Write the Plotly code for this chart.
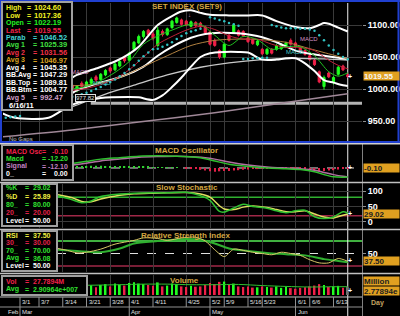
import plotly.graph_objects as go

W, H = 400, 316

# ---------------- data ----------------
bar_idx = list(range(15, 74))
opens = [1006, 999, 1009, 1004, 1009, 1019, 1015, 1022, 1033, 1030, 1036, 1049, 1045, 1062, 1072, 1082,
         1092, 1086, 1068, 1090, 1085, 1096, 1104, 1108, 1106, 1098, 1104, 1103, 1097, 1089, 1076, 1060,
         1050, 1084, 1088, 1091, 1090, 1080, 1077, 1069, 1062, 1055, 1062, 1062, 1063, 1066, 1076, 1072,
         1065, 1060, 1052, 1045, 1027, 1004, 1025, 1010, 1023, 1036, 1022.19]
highs = [1009, 1006, 1012, 1013, 1018, 1022, 1025, 1031, 1035, 1041, 1045, 1051, 1058, 1075, 1085, 1092,
         1094, 1089, 1097, 1093, 1096, 1108, 1113, 1110, 1108, 1107, 1106, 1105, 1099, 1091, 1079, 1062,
         1072, 1086, 1102, 1093, 1092, 1083, 1079, 1077, 1064, 1064, 1064, 1070, 1072, 1074, 1079, 1074,
         1067, 1062, 1054, 1047, 1029, 1021, 1027, 1020, 1036, 1038, 1024.60]
lows = [998, 995, 1001, 1002, 1007, 1011, 1013, 1020, 1025, 1028, 1034, 1041, 1043, 1060, 1070, 1079,
        1083, 1076, 1066, 1082, 1083, 1094, 1102, 1099, 1098, 1096, 1096, 1095, 1086, 1068, 1066, 1047,
        1048, 1074, 1086, 1082, 1081, 1072, 1069, 1067, 1053, 1053, 1054, 1060, 1061, 1064, 1068, 1064,
        1057, 1052, 1044, 1036, 1009, 999, 1017, 1007, 1021, 1028, 1017.36]
closes = [1001, 1004, 1004, 1011, 1015, 1014, 1023, 1029, 1028, 1039, 1043, 1044, 1056, 1073, 1082, 1090,
          1085, 1079, 1092, 1085, 1094, 1106, 1111, 1101, 1100, 1105, 1099, 1097, 1088, 1070, 1068, 1050,
          1070, 1076, 1100, 1084, 1083, 1074, 1071, 1075, 1055, 1062, 1056, 1068, 1070, 1072, 1070, 1066,
          1059, 1054, 1046, 1038, 1011, 1018, 1019, 1018, 1034, 1030, 1019.55]

avg1_x = [15, 18, 21, 24, 27, 30, 33, 36, 39, 42, 45, 48, 51, 54, 57, 60, 63, 66, 69, 71, 73]
avg1_y = [1000, 1004, 1013, 1026, 1043, 1070, 1083, 1092, 1100, 1101, 1084, 1068, 1082, 1077, 1062,
          1066, 1066, 1052, 1027, 1020, 1025.39]
avg2_y = [998, 1001, 1007, 1016, 1030, 1050, 1070, 1082, 1092, 1098, 1093, 1083, 1078, 1078, 1070,
          1065, 1065, 1060, 1045, 1037, 1031.56]
avg3_x = [15, 20, 25, 30, 35, 40, 45, 50, 55, 60, 65, 70, 73]
avg3_y = [1005, 1008, 1018, 1035, 1052, 1068, 1076, 1078, 1077, 1073, 1063, 1053, 1046.97]
avg4_x = [14, 16, 22, 28, 35, 42, 48, 55, 62, 68, 73]
avg4_y = [970, 975, 992, 1006, 1022, 1034, 1041, 1046, 1048, 1047, 1045.35]
avg5_x = [0, 15, 29, 45, 60, 73]
avg5_y = [925, 936, 948.4, 963, 979, 992.47]

bbtop_x = [0, 8, 14, 16, 20, 24, 27, 29, 31, 33, 36, 38, 40, 42, 44, 48, 52, 55, 58, 62, 65, 67, 68, 69, 71, 73]
bbtop_y = [1010, 1006, 1014, 1022, 1032, 1043, 1055, 1066, 1083, 1100, 1114, 1121, 1123, 1119, 1116, 1115,
           1115, 1115, 1106, 1097, 1095, 1100, 1103, 1102, 1096, 1089.81]
bbavg_x = [0, 8, 14, 16, 20, 24, 27, 30, 33, 36, 40, 43, 46, 50, 55, 58, 62, 65, 68, 71, 73]
bbavg_y = [985, 982, 990, 998, 1008, 1016, 1024, 1035, 1052, 1066, 1080, 1086, 1088, 1087, 1081, 1073,
           1060, 1055, 1052, 1049, 1047.29]
bbbtm_x = [0, 3, 10, 14, 16, 21, 27, 29, 32, 34, 36, 38, 40, 42, 44, 47, 50, 52, 55, 58, 60, 62, 64, 66, 68, 70, 72, 73]
bbbtm_y = [963, 955, 955, 972, 978, 986, 987.5, 987, 983, 990, 1003, 1018, 1035, 1050, 1056, 1058, 1058,
           1057, 1046, 1046, 1048, 1048, 1040, 1028, 1014, 1010, 1006, 1004.77]

sar_x = [1, 2, 3, 4, 15, 16, 17, 18, 19, 20, 21, 22, 23, 24, 25, 26, 27, 28, 29, 30, 31, 32, 33, 34, 35,
         36, 37, 38, 39, 40, 41, 42, 44, 45, 46, 47, 48, 49, 50, 51, 52, 53, 54, 55, 56,
         57, 58, 59, 60, 61, 62, 63, 64, 65, 66, 67, 68, 69, 70, 71, 72, 73]
sar_y = [955, 956, 957, 958, 988, 990, 992, 994, 997, 1000, 1003, 1007, 1011, 1015, 1020, 1025, 1031,
         1037, 1044, 1051, 1057, 1062, 1063, 1066, 1069, 1073, 1078, 1083, 1087, 1090, 1092, 1094,
         1112, 1110, 1108, 1106, 1103, 1101, 1099, 1047, 1047, 1048, 1048, 1049, 1049,
         1100, 1098, 1096, 1095, 1095, 1095, 1094, 1094, 1093, 1091, 1084, 1076, 1068, 1061, 1055, 1050, 1046.52]

level_line = 977.82
last_price = 1019.55

macd_x = [15, 18, 21, 25, 29, 33, 37, 41, 43, 45, 48, 52, 56, 60, 63, 66, 68, 70, 72, 73]
macd_y = [6, 9, 12, 14, 16, 16.5, 16, 14.5, 12.5, 9.5, 5, 2, 0, -1, -2, -5, -9, -12, -12.5, -12.2]
signal_y = [4, 6.5, 9.5, 12, 14.5, 15.5, 16, 15, 14, 12, 8, 4, 1.5, 0, -1, -3, -6, -9, -11.3, -12.1]
macd_osc = [1.5, 2, 2.5, 2.5, 3, 3, 3, 2.5, 2.5, 2, 2, 2, 2, 2.5, 2.5, 2, 1.5, 1, 1, 1, 0.5, 0.5, 0.5, 0,
            -0.5, -1, -1.5, -2.5, -3.5, -4.5, -5, -4.5, -4, -4, -3.5, -3, -2.5, -2, -1.5, -1.5, -1, -1,
            -1, -1, -0.5, -0.5, -1, -1, -1.5, -2, -3, -3.5, -4, -4, -3.5, -3, -2, -1, -0.1]

stoch_x = [12, 15, 17, 19, 21, 25, 28, 32, 35, 39, 42, 44, 46, 47, 49, 51, 53, 56, 58, 60, 62, 64, 66, 68, 70, 72, 73]
stoch_k = [84, 72, 62, 68, 82, 90, 93, 94, 94, 96, 85, 70, 34, 32, 45, 57, 50, 44, 36, 30, 36, 38, 17, 11, 16, 33, 29.02]
stoch_d = [88, 78, 66, 65, 74, 86, 91, 93, 94, 95, 90, 80, 52, 42, 40, 48, 52, 47, 40, 33, 33, 36, 26, 16, 13, 22, 25.89]

rsi_x = [12, 14, 16, 18, 21, 24, 28, 30, 33, 35, 38, 41, 43, 45, 47, 49, 51, 53, 55, 57, 59, 61, 63, 65, 67, 69, 71, 73]
rsi_y = [58, 55, 51, 52, 57, 65, 71, 75, 74, 71, 75, 76, 70, 56, 45, 57, 55, 52, 50, 48, 52, 50, 47, 40, 35, 35, 42, 37.5]
rsiavg_x = [12, 16, 21, 25, 28, 33, 38, 42, 45, 48, 52, 56, 60, 64, 68, 71, 73]
rsiavg_y = [56, 54, 52, 58, 66, 70, 73, 72, 66, 58, 54, 51, 49, 47, 41, 38, 36.08]

vol_m = [30, 28, 32, 30, 34, 27, 35, 38, 30, 40, 36, 33, 42, 45, 40, 38, 35, 32, 44, 30, 33, 40, 38, 30,
         28, 32, 29, 30, 35, 42, 38, 46, 47, 35, 40, 30, 28, 30, 26, 27, 30, 28, 26, 30, 25, 28, 24, 22,
         25, 27, 30, 33, 38, 35, 28, 30, 32, 25, 27.79]
volavg_x = [18, 25, 30, 35, 40, 45, 50, 55, 60, 65, 70, 73]
volavg_y = [34, 36, 38, 38, 36, 36, 37, 33, 30, 28, 29, 29.1]

tick_idx = [4, 8, 13, 18, 23, 27, 32, 39, 44, 47, 52, 55, 62, 65, 70]
tick_labels = ["3/1", "3/7", "3/14", "3/21", "3/28", "4/1", "4/11", "4/25", "5/2", "5/9", "5/16", "5/23",
               "6/1", "6/6", "6/13"]
month_idx = [1, 4, 27, 44, 62]
month_labels = ["Feb", "Mar", "Apr", "May", "Jun"]

price_ticks = [950, 1000, 1050, 1100]
stoch_ticks = [0, 50, 100]
rsi_ticks = [50]

# ---------------- layout helpers ----------------
def px(x):
    return x / W


def py(y):
    return 1 - y / H


X_RANGE = [0.42, 76.0]
XDOM = [px(3), px(362)]
FONT = "Liberation Sans"
GOLD = "#d4a640"
BOXC = "#e0a020"
GRID = "#3a3a3a"

fig = go.Figure()

up_c = "#20ff20"
dn_c = "#f02048"

fig.add_trace(go.Candlestick(x=bar_idx, open=opens, high=highs, low=lows, close=closes,
                             increasing=dict(line=dict(color=up_c, width=1), fillcolor=up_c),
                             decreasing=dict(line=dict(color=dn_c, width=1), fillcolor=dn_c),
                             xaxis="x", yaxis="y", showlegend=False, hoverinfo="skip"))


def line(xs, ys, color, width, xa="x", ya="y", dash="solid", shape="spline"):
    fig.add_trace(go.Scatter(x=xs, y=ys, mode="lines", line=dict(color=color, width=width, dash=dash,
                                                                 shape=shape, smoothing=0.8),
                             xaxis=xa, yaxis=ya, showlegend=False, hoverinfo="skip"))


line(avg5_x, avg5_y, "#a08898", 1.5)
line(avg4_x, avg4_y, "#c8c8c8", 1.3)
line(bbtop_x, bbtop_y, "#ffffff", 2)
line(bbavg_x, bbavg_y, "#ffffff", 2)
line(bbbtm_x, bbbtm_y, "#ffffff", 2)
line(avg3_x, avg3_y, "#b08040", 1)
line(avg1_x, avg2_y, "#c02038", 1)
line(avg1_x, avg1_y, "#20c020", 1)
fig.add_trace(go.Scatter(x=sar_x, y=sar_y, mode="markers", marker=dict(color="#30c0c0", size=2.5),
                         xaxis="x", yaxis="y", showlegend=False, hoverinfo="skip"))

# MACD panel
osc_colors = ["#30d030" if v >= 0 else "#e02048" for v in macd_osc]
fig.add_trace(go.Bar(x=bar_idx, y=macd_osc, width=0.3, marker=dict(color=osc_colors, line=dict(width=0)),
                     xaxis="x2", yaxis="y2", showlegend=False, hoverinfo="skip"))
line(macd_x, signal_y, "#b070a0", 1.5, "x2", "y2")
line(macd_x, macd_y, "#30c030", 1.5, "x2", "y2")

# Stochastic
line(stoch_x, stoch_d, "#e0e060", 1.5, "x3", "y3")
line(stoch_x, stoch_k, "#30c030", 1.5, "x3", "y3")

# RSI
line(rsiavg_x, rsiavg_y, "#30b030", 2, "x4", "y4")
line(rsi_x, rsi_y, "#d8c868", 1, "x4", "y4")

# Volume
vol_colors = [up_c if c >= o else dn_c for o, c in zip(opens, closes)]
vol_colors[-1] = "#707070"
fig.add_trace(go.Bar(x=bar_idx, y=vol_m, width=0.4, marker=dict(color=vol_colors, line=dict(width=0)),
                     xaxis="x5", yaxis="y5", showlegend=False, hoverinfo="skip"))
line(volavg_x, volavg_y, "#30c030", 1, "x5", "y5")

# ---------------- axes ----------------
panels = {
    "": (3, 141, [918.75, 1134.4]),
    "2": (145, 181, [-17.6, 31.1]),
    "3": (184, 228, [-19.4, 122.6]),
    "4": (231, 272, [20.4, 86]),
    "5": (275, 295, [0, 70]),
}
layout = dict(width=W, height=H, margin=dict(l=0, r=0, t=0, b=0), paper_bgcolor="black",
              plot_bgcolor="black", showlegend=False, boxgap=0.35, barmode="overlay")
for k, (top, bot, yr) in panels.items():
    layout["xaxis" + k] = dict(domain=XDOM, range=X_RANGE, anchor="y" + k, tickvals=tick_idx,
                               showticklabels=False, showgrid=True, gridcolor=GRID, gridwidth=1,
                               zeroline=False, showline=False, ticks="", fixedrange=True,
                               rangeslider=dict(visible=False))
    if k:
        layout["xaxis" + k]["matches"] = "x"
    layout["yaxis" + k] = dict(domain=[py(bot), py(top)], range=yr, anchor="x" + k, side="right",
                               showgrid=False, zeroline=False, showline=False, showticklabels=False,
                               ticks="", fixedrange=True)

tickfont = dict(family=FONT, size=9, color="white", weight="bold")
layout["yaxis"].update(tickvals=price_ticks, ticktext=["%.2f" % v for v in price_ticks],
                       showticklabels=True, showgrid=True, gridcolor=GRID, tickfont=tickfont,
                       ticks="outside", ticklen=3, tickcolor="#909090")
layout["yaxis3"].update(tickvals=stoch_ticks, ticktext=[str(v) for v in stoch_ticks], showticklabels=True,
                        showgrid=True, gridcolor=GRID, tickfont=tickfont,
                        ticks="outside", ticklen=3, tickcolor="#909090")
layout["yaxis4"].update(tickvals=rsi_ticks, ticktext=[str(v) for v in rsi_ticks], showticklabels=True,
                        showgrid=False, tickfont=tickfont, ticks="outside", ticklen=3, tickcolor="#909090")
fig.update_layout(**layout)

shapes = []


def hline(yv, color, width, ya, dash="solid", x0=X_RANGE[0], x1=X_RANGE[1]):
    shapes.append(dict(type="line", xref="x", yref=ya, x0=x0, x1=x1, y0=yv, y1=yv,
                       line=dict(color=color, width=width, dash=dash), layer="below"))


# level lines
hline(level_line, "#b4b4b4", 3, "y", x0=18.9)
hline(0, "#e0e0e0", 1, "y2", "dash")
hline(80, "#30b030", 1.5, "y3")
hline(50, "#e0e0e0", 1, "y3", "dash")
hline(20, "#a02848", 1.5, "y3")
hline(70, "#40b040", 2, "y4")
hline(50, "#e0e0e0", 1, "y4", "dash")
hline(30, "#a02848", 1.5, "y4")

# current-day line
shapes.append(dict(type="line", xref="x", yref="paper", x0=bar_idx[-1], x1=bar_idx[-1], y0=py(316), y1=py(3),
                   line=dict(color="#f0f0f0", width=1), layer="below"))
# right axis line
shapes.append(dict(type="line", xref="paper", yref="paper", x0=px(362.5), x1=px(362.5), y0=py(316), y1=py(143),
                   line=dict(color="#808080", width=1)))


def pline(x0, y0, x1, y1, color, width=1):
    shapes.append(dict(type="line", xref="paper", yref="paper", x0=px(x0), x1=px(x1), y0=py(y0), y1=py(y1),
                       line=dict(color=color, width=width)))


# panel separators
pline(0, 142, 400, 142, "#2040d0", 2)
pline(0, 143.8, 400, 143.8, "#d0d0d0", 1.5)
pline(0, 182.5, 400, 182.5, "#c0c0c0", 1.5)
pline(0, 229.5, 400, 229.5, "#c0c0c0", 1.5)
pline(0, 273.5, 400, 273.5, "#c0c0c0", 1.5)
pline(0, 297, 362, 297, "#c0c0c0", 1)
pline(0, 307, 362, 307, "#909090", 1)
# blue frame of main panel
pline(0, 1, 400, 1, "#2040d0", 2)
pline(398.5, 1, 398.5, 142, "#2040d0", 2)
pline(1, 1, 1, 142, "#2040d0", 2)

# bottom axis tick separators
for t in tick_idx:
    shapes.append(dict(type="line", xref="x5", yref="paper", x0=t, x1=t, y0=py(307), y1=py(297),
                       line=dict(color="#909090", width=1)))
for t in month_idx[1:]:
    shapes.append(dict(type="line", xref="x5", yref="paper", x0=t, x1=t, y0=py(316), y1=py(307),
                       line=dict(color="#909090", width=1)))


def box(x0, y0, x1, y1):
    shapes.append(dict(type="rect", xref="paper", yref="paper", x0=px(x0), x1=px(x1), y0=py(y1), y1=py(y0),
                       fillcolor="black", line=dict(color="#a0a0a0", width=2), layer="above"))


box(2, 2, 72, 110)
box(2, 145, 73, 180)
box(2, 184, 57, 226)
box(2, 231, 57, 271)
box(2, 276, 87, 295)

fig.update_layout(shapes=shapes)

ann = []


def txt(x, y, s, color, size=7, xanchor="left", weight="bold", **kw):
    d = dict(xref="paper", yref="paper", x=px(x), y=py(y), text=s, showarrow=False, xanchor=xanchor,
             yanchor="middle", borderpad=0, font=dict(family=FONT, size=size, color=color, weight=weight))
    d.update(kw)
    ann.append(d)


# main legend
main_leg = [
    ("High", "1024.60", "#f0f020"), ("Low", "1017.36", "#f0f020"), ("Open", "1022.19", "#20f020"),
    ("Last", "%.2f" % last_price, "#f02048"), ("Parab", "1046.52", "#40d0d0"), ("Avg 1", "1025.39", "#40e040"),
    ("Avg 2", "1031.56", "#f03048"), ("Avg 3", "1046.97", "#d8a020"), ("Avg 4", "1045.35", "#ffffff"),
    ("BB.Avg", "1047.29", "#ffffff"), ("BB.Top", "1089.81", "#ffffff"), ("BB.Btm", "1004.77", "#ffffff"),
    ("Avg 5", "992.47", "#d0a0c8"),
]
for i, (lab, val, col) in enumerate(main_leg):
    yy = 7.5 + 7.5 * i
    if i < 4:
        txt(5, yy, lab, col, size=7)
        txt(29, yy, "=", col, size=7, xanchor="center")
        txt(33, yy, val, col, size=7.5)
    else:
        txt(5, yy, lab, col, size=7)
        txt(35, yy, "=", col, size=7, xanchor="center")
        txt(39, yy, val, col, size=7.5)
txt(8, 105, "6/16/11", "#ffffff", size=7.5)

macd_leg = [("MACD Osc", "-0.10", "#f02048"), ("Macd", "-12.20", "#30e030"), ("Signal", "-12.10", "#c080c0"),
            ("0_", "0.00", "#ffffff")]
for i, (lab, val, col) in enumerate(macd_leg):
    yy = 151 + 7.5 * i
    txt(5, yy, lab, col)
    txt(44, yy, "=", col, xanchor="center")
    txt(69, yy, val, col, xanchor="right")

st_leg = [("%K", "29.02", "#30e030"), ("%D", "25.89", "#f0f040"), ("80_", "80.00", "#30e030"),
          ("20_", "20.00", "#e02048"), ("Level", "50.00", "#ffffff")]
for i, (lab, val, col) in enumerate(st_leg):
    yy = 188 + 8 * i
    txt(5, yy, lab, col)
    txt(27, yy, "=", col, xanchor="center")
    txt(32, yy, val, col)

rsi_leg = [("RSI", "37.50", "#f0f040"), ("30_", "30.00", "#e02048"), ("70_", "70.00", "#30e030"),
           ("Avg", "36.08", "#30e030"), ("Level", "50.00", "#ffffff")]
for i, (lab, val, col) in enumerate(rsi_leg):
    yy = 235 + 7.7 * i
    txt(5, yy, lab, col)
    txt(27, yy, "=", col, xanchor="center")
    txt(32, yy, val, col)

vol_leg = [("Vol", "27.7894M", "#f02048"), ("Avg", "2.90964e+007", "#30e030")]
for i, (lab, val, col) in enumerate(vol_leg):
    yy = 281 + 8 * i
    txt(5, yy, lab, col)
    txt(27, yy, "=", col, xanchor="center")
    txt(32, yy, val, col)

# titles
txt(151, 6.5, "SET INDEX (SET9)", GOLD, size=8)
txt(154, 150, "MACD Oscillator", GOLD, size=8)
txt(155, 188, "Slow Stochastic", GOLD, size=8)
txt(140, 235, "Relative Strength Index", GOLD, size=8)
txt(169, 280, "Volume", GOLD, size=8)

txt(8, 139, "No Gaps", "#c0c0c0", size=6, weight="normal")


# value boxes
def vbox(y, s, color="#202020"):
    txt(363, y, s, color, size=8, bgcolor=BOXC, width=35, height=8, align="left")
    txt(350, y, "+", "#ffffff", size=7, xanchor="center")


vbox(76.5, "%.2f" % last_price, "#f4f4f4")
vbox(168, "-0.10")
vbox(213.5, "29.02")
vbox(260.5, "37.50")
txt(363, 280.5, "Million", "#202020", size=8, bgcolor=BOXC, width=35, height=8, align="left")
vbox(290.5, "2.77894e")
txt(370, 303, "Day", "#c0a060", size=7)

# x labels
for t, lab in zip(tick_idx, tick_labels):
    ann.append(dict(xref="x5", yref="paper", x=t, y=py(302), text=lab, showarrow=False, xanchor="left",
                    yanchor="middle", xshift=1, borderpad=0, font=dict(family=FONT, size=6, color="#e0e0e0")))
for t, lab in zip(month_idx, month_labels):
    ann.append(dict(xref="x5", yref="paper", x=t, y=py(312), text=lab, showarrow=False, xanchor="left",
                    yanchor="middle", xshift=1, borderpad=0, font=dict(family=FONT, size=6, color="#e0e0e0")))

# level label
ann.append(dict(xref="x", yref="y", x=17.8, y=level_line, text="%.2f" % level_line, showarrow=False,
                xanchor="center", yanchor="bottom", yshift=1, bgcolor="black", bordercolor="#e0e0e0",
                borderwidth=1, borderpad=0, font=dict(family=FONT, size=6, color="#e0e0e0")))
# signal markers
for xx, yy, s, c in [(16.7, 1027, "MACD", "#d090c0"), (21.2, 1009, "MACD", "#40c8c8"),
                     (64.9, 1078, "MACD", "#d090c0"), (61.8, 1058, "MACD", "#40c8c8"),
                     (39.7, 1116, "↓", "#d090c0"), (61.0, 1066, "↑", "#40c8c8")]:
    ann.append(dict(xref="x", yref="y", x=xx, y=yy, text=s, showarrow=False, xanchor="center",
                    yanchor="middle", borderpad=0, font=dict(family=FONT, size=6, color=c)))

fig.update_layout(annotations=ann)
fig.write_html("out.html")
